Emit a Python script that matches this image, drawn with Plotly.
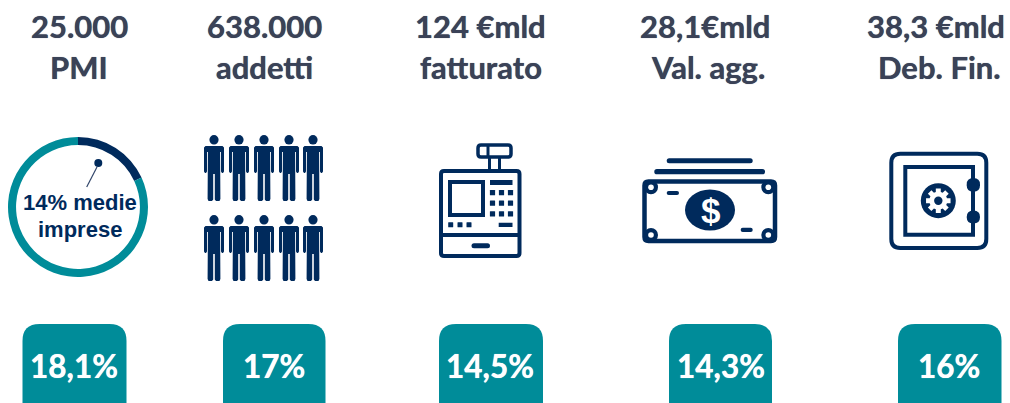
import math
import plotly.graph_objects as go

# ---- content ----
title_top = ["25.000", "638.000", "124 €mld", "28,1€mld", "38,3 €mld"]
title_bottom = ["PMI", "addetti", "fatturato", "Val. agg.", "Deb. Fin."]
badge_labels = ["18,1%", "17%", "14,5%", "14,3%", "16%"]
donut_labels = ["Medie imprese", "Altre PMI"]
donut_values = [18.1, 81.9]
donut_text = ["14% medie", "imprese"]

# ---- layout helpers (pixel space) ----
W, H = 1010, 403
NAVY = "#002A5C"
TEAL = "#008C99"
TXT = "#3A4257"
title_cx = [79, 264, 480, 705, 936]
title2_cx = [79, 264, 481, 708, 939]
badge_x = [(22.5, 126.5), (223, 325.5), (439, 543), (669, 772), (898, 1001.5)]
badge_cx = [73.5, 274, 490, 721, 949]
shapes = []


def rr_path(x0, y0, x1, y1, r):
    return (f"M{x0+r},{y0} L{x1-r},{y0} Q{x1},{y0} {x1},{y0+r} L{x1},{y1-r} Q{x1},{y1} {x1-r},{y1} "
            f"L{x0+r},{y1} Q{x0},{y1} {x0},{y1-r} L{x0},{y0+r} Q{x0},{y0} {x0+r},{y0} Z")


def rrect(x0, y0, x1, y1, r=0, fill=None, line=None, lw=0):
    shapes.append(dict(type="path", path=rr_path(x0, y0, x1, y1, r), xref="x", yref="y",
                       fillcolor=fill or "rgba(0,0,0,0)",
                       line=dict(color=line or "rgba(0,0,0,0)", width=lw)))


def circle(cx, cy, rx, ry=None, fill=NAVY):
    ry = rx if ry is None else ry
    shapes.append(dict(type="circle", x0=cx-rx, x1=cx+rx, y0=cy-ry, y1=cy+ry, xref="x", yref="y",
                       fillcolor=fill, line=dict(width=0)))


def seg(x0, y0, x1, y1, w=3.5, color=NAVY):
    shapes.append(dict(type="line", x0=x0, y0=y0, x1=x1, y1=y1, xref="x", yref="y",
                       line=dict(color=color, width=w)))


def person(cx, ty):
    half = [(7, 11), (8.5, 11), (10, 12.5), (10, 36.5), (9, 38), (8, 38), (7, 36.5), (7, 17), (6.1, 17),
            (6.4, 64), (5.5, 66), (2, 66), (0.8, 64.5), (0.8, 39), (0, 39)]
    pts = half + [(-x, y) for x, y in reversed(half[:-1])]
    p = "M" + " L".join(f"{cx+x},{ty+y}" for x, y in pts) + " Z"
    shapes.append(dict(type="path", path=p, xref="x", yref="y", fillcolor=NAVY, line=dict(width=0)))
    circle(cx, ty+4.8, 4.6, 4.8)


# badges
for (x0, x1) in badge_x:
    rrect(x0, 324, x1, 430, 17, fill=TEAL)

# people
for ty in (135, 215):
    for cx in (214, 239, 264, 289, 313):
        person(cx, ty)

# cash register
rrect(441, 171, 519.5, 256, 3, line=NAVY, lw=4)
seg(441, 235, 519.5, 235, 4)
rrect(450, 182, 483, 215, 0, line=NAVY, lw=4)
rrect(490, 180, 512.5, 185, 0, fill=NAVY)
for px in (492.5, 501.5, 510.5):
    for py in (192.7, 203.2, 213.8):
        rrect(px-2.6, py-2.6, px+2.6, py+2.6, 0.5, fill=NAVY)
for px in (450.7, 460, 469):
    rrect(px-2.5, 222.3, px+2.5, 227.2, 0.5, fill=NAVY)
rrect(498.7, 222.7, 512.5, 227, 0, fill=NAVY)
rrect(471.5, 243.2, 490, 248.2, 2.5, fill=NAVY)
rrect(478, 145, 511, 157, 3, line=NAVY, lw=3.5)
seg(488, 145, 488, 157, 3)
seg(489.5, 157, 489.5, 170, 3)
seg(499.5, 157, 499.5, 170, 3)

# banknotes
rrect(666.7, 158.3, 752.7, 163.3, 2.5, fill=NAVY)
rrect(654.3, 169, 765, 174.3, 2.6, fill=NAVY)
rrect(644.5, 181.5, 775, 241, 4, line=NAVY, lw=4.5)
for px, py in ((651, 187.3), (768.3, 187.3), (651, 235), (768.3, 235)):
    circle(px, py, 7, fill=NAVY)
    circle(px, py, 2.8, fill="#FFFFFF")
rrect(666.7, 191, 679, 195, 2, fill=NAVY)
rrect(740.7, 227.7, 752.7, 232, 2, fill=NAVY)
circle(710, 210, 25, 20.5)

# safe
rrect(891.3, 153.7, 986.3, 248, 9, line=NAVY, lw=4)
rrect(905.3, 167, 973, 234.7, 0, line=NAVY, lw=4)
rrect(966.7, 178, 980, 191.7, 6.5, fill=NAVY)
rrect(966.7, 210.5, 980, 223.5, 6.5, fill=NAVY)
circle(938.3, 200.7, 17.5)
gear = []
for i in range(8):
    a = i * math.pi / 4 - math.pi / 2
    for da, r in ((-0.28, 9), (-0.2, 12.5), (0.2, 12.5), (0.28, 9)):
        gear.append((938.3 + r * math.cos(a + da), 200.7 + r * math.sin(a + da)))
shapes.append(dict(type="path", xref="x", yref="y", fillcolor="#FFFFFF", line=dict(width=0),
                   path="M" + " L".join(f"{x:.2f},{y:.2f}" for x, y in gear) + " Z"))
circle(938.3, 200.7, 4.2)

# donut callout
seg(86.7, 187, 97, 167, 1.2, "#33476B")
circle(98.3, 163, 4)

# ---- text ----
ann = []


def text(x, y, s, size, color, family="Lato", bold=True, shadow=None):
    font = dict(family=family, size=size, color=color)
    if shadow:
        font["shadow"] = f"0 0 0.7px {shadow}"
    ann.append(dict(x=x, y=y, xref="x", yref="y", text=f"<b>{s}</b>" if bold else s, showarrow=False,
                    xanchor="center", yanchor="middle", font=font))


for cx, a in zip(title_cx, title_top):
    text(cx, 25.5, a, 31, TXT, shadow=TXT)
for cx, b in zip(title2_cx, title_bottom):
    text(cx, 67, b, 31, TXT, shadow=TXT)
for cx, s in zip(badge_cx, badge_labels):
    text(cx, 366, s, 31.5, "#FFFFFF", shadow="#FFFFFF")
text(80, 202, donut_text[0], 22, NAVY, "Liberation Sans")
text(80, 229, donut_text[1], 22, NAVY, "Liberation Sans")
text(710, 210, "$", 35, "#FFFFFF", "Liberation Sans")

fig = go.Figure()
fig.add_trace(go.Pie(labels=donut_labels, values=donut_values, sort=False, direction="clockwise", rotation=0,
                     hole=0.885, textinfo="none", showlegend=False, hoverinfo="skip",
                     marker=dict(colors=[NAVY, TEAL], line=dict(width=0)),
                     domain=dict(x=[8/W, 148/W], y=[1-277/H, 1-137/H])))
fig.update_layout(width=W, height=H, margin=dict(l=0, r=0, t=0, b=0), autosize=False,
                  paper_bgcolor="#FFFFFF", plot_bgcolor="rgba(0,0,0,0)", showlegend=False,
                  xaxis=dict(range=[0, W], visible=False, fixedrange=True),
                  yaxis=dict(range=[H, 0], visible=False, fixedrange=True),
                  shapes=shapes, annotations=ann)
fig.write_html("out.html", config=dict(displayModeBar=False),
               post_script="document.body.style.margin='0';document.body.style.overflow='hidden';")
